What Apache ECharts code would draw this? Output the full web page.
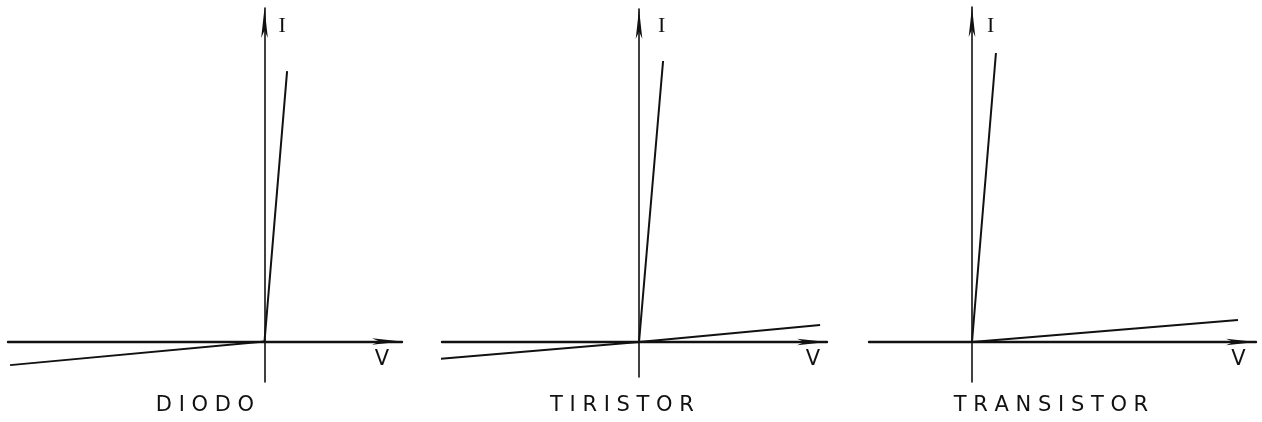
<!DOCTYPE html>
<html>
<head>
<meta charset="utf-8">
<script src="https://cdn.jsdelivr.net/npm/echarts@6/dist/echarts.min.js"></script>
<style>
html,body{margin:0;padding:0;background:#fff;}
#chart{width:1262px;height:422px;}
</style>
</head>
<body>
<div id="chart"></div>
<script>
// Panel titles
const panelTitles = ['D I O D O', 'T I R I S T O R', 'T R A N S I S T O R'];
const axisNameV = 'V';
const axisNameI = 'I';

// Branch data: [V, I] in arbitrary units, each branch drawn from the origin
const diodeForward      = [[0, 0], [0.88, 8.01]];
const diodeReverse      = [[0, 0], [-9.92, -0.70]];
const tiristorForward   = [[0, 0], [1.22, 8.43]];
const tiristorReverse   = [[0, 0], [-10.2, -0.51]];
const tiristorBlocking  = [[0, 0], [9.19, 0.51]];
const transistorForward = [[0, 0], [0.93, 8.67]];
const transistorBlocking= [[0, 0], [10.33, 0.66]];

// Axis ranges per panel
const xRanges = [[-10, 5.36], [-10, 9.54], [-4, 11.03]];
const yRanges = [[-1.2, 9.88], [-1.05, 9.99], [-1.2, 10.05]];

const INK = '#111';

// layout per panel (pixels)
const grids = [
  {left: 8,   top: 8, width: 394, height: 374},
  {left: 442, top: 9, width: 385, height: 368},
  {left: 869, top: 7, width: 387, height: 375}
];
const titleCenters = [205, 622, 1051];
const iOffsets = [14, 19, 15];
const iGaps = [-18, -17, -19];
const vGaps = [-20, -14, -17.5];

const xAxes = grids.map((g, i) => ({
  type: 'value', gridIndex: i, min: xRanges[i][0], max: xRanges[i][1],
  splitLine: {show: false}, axisTick: {show: false}, axisLabel: {show: false},
  axisLine: {show: true, onZero: true, symbol: ['none', 'arrow'], symbolSize: [5, 30],
    lineStyle: {color: INK, width: 2.4}},
  name: axisNameV, nameLocation: 'end', nameGap: vGaps[i],
  nameTextStyle: {color: INK, fontFamily: 'DejaVu Sans', fontSize: 21, align: 'center',
    verticalAlign: 'top', lineHeight: 36}
}));
const yAxes = grids.map((g, i) => ({
  type: 'value', gridIndex: i, min: yRanges[i][0], max: yRanges[i][1],
  splitLine: {show: false}, axisTick: {show: false}, axisLabel: {show: false},
  axisLine: {show: true, onZero: true, symbol: ['none', 'arrow'], symbolSize: [5, 30],
    lineStyle: {color: INK, width: 1.6}},
  name: axisNameI, nameLocation: 'end', nameGap: iGaps[i],
  nameTextStyle: {color: INK, fontFamily: 'Liberation Serif', fontSize: 22, align: 'left',
    verticalAlign: 'middle', padding: [0, 0, 0, iOffsets[i]]}
}));

function branch(data, idx, w) {
  return {type: 'line', data: data, xAxisIndex: idx, yAxisIndex: idx, symbol: 'none',
    clip: false, silent: true, animation: false,
    lineStyle: {color: INK, width: w}};
}

const option = {
  backgroundColor: '#fff',
  animation: false,
  title: panelTitles.map((t, i) => ({
    text: t, left: titleCenters[i], top: 395, textAlign: 'center', padding: 0,
    textStyle: {fontFamily: 'DejaVu Sans', fontSize: 21, fontWeight: 'normal', color: INK}
  })),
  grid: grids.map(g => Object.assign({outerBoundsMode: 'none'}, g)),
  xAxis: xAxes,
  yAxis: yAxes,
  series: [
    branch(diodeForward, 0, 2),
    branch(diodeReverse, 0, 2),
    branch(tiristorForward, 1, 2),
    branch(tiristorReverse, 1, 2),
    branch(tiristorBlocking, 1, 2.2),
    branch(transistorForward, 2, 2),
    branch(transistorBlocking, 2, 2.2)
  ]
};

const chart = echarts.init(document.getElementById('chart'), null, {renderer: 'canvas'});
chart.setOption(option);
</script>
</body>
</html>
